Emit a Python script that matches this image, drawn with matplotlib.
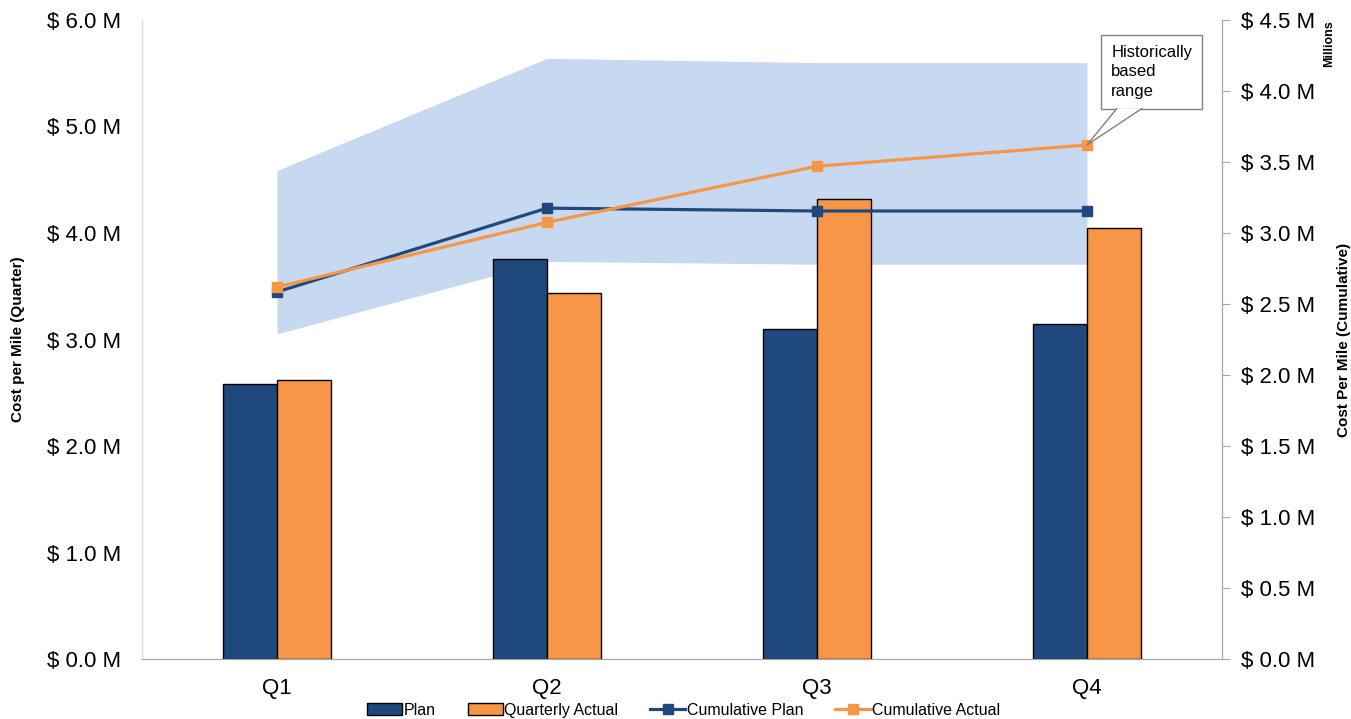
import numpy as np
import matplotlib.pyplot as plt
from matplotlib.patches import Polygon
from matplotlib.lines import Line2D
from matplotlib.transforms import offset_copy

plt.rcParams['font.family'] = ['Liberation Sans', 'DejaVu Sans']

# Data (in $ millions)
quarters = ['Q1', 'Q2', 'Q3', 'Q4']
plan = [2.58, 3.76, 3.10, 3.15]
quarterly_actual = [2.62, 3.44, 4.32, 4.05]
cumulative_plan = [2.585, 3.175, 3.155, 3.155]
cumulative_actual = [2.62, 3.075, 3.47, 3.62]
range_low = [2.29, 2.80, 2.78, 2.78]
range_high = [3.44, 4.23, 4.20, 4.20]

left_ticks = [0, 1, 2, 3, 4, 5, 6]
right_ticks = [0, 0.5, 1.0, 1.5, 2.0, 2.5, 3.0, 3.5, 4.0, 4.5]

navy = '#1F497D'
orange = '#F79646'
band = '#C6D9F0'
grey = '#A6A6A6'

fig = plt.figure(figsize=(13.51, 7.19), dpi=100)
ax1 = fig.add_axes([0.1051, 0.0834, 0.7994, 0.8888])
ax2 = ax1.twinx()

x = np.arange(len(quarters))
w = 0.2

ax1.set_xlim(-0.5, 3.5)
ax1.set_ylim(0, 6.0)
ax2.set_ylim(0, 4.5)

# historical range band (cumulative scale), drawn beneath bars
ax1.fill_between(x, range_low, range_high, color=band, lw=0,
                 transform=ax2.transData, zorder=0)

ax1.bar(x - w / 2, plan, w, color=navy, edgecolor='black', lw=1, zorder=2, label='Plan')
ax1.bar(x + w / 2, quarterly_actual, w, color=orange, edgecolor='black', lw=1, zorder=2,
        label='Quarterly Actual')

ax2.plot(x, cumulative_plan, color=navy, lw=2.3, marker='s', ms=7.5, label='Cumulative Plan')
ax2.plot(x, cumulative_actual, color=orange, lw=2.3, marker='s', ms=7.5, label='Cumulative Actual')

# axes styling
ax1.set_xticks(x)
ax1.set_xticklabels(quarters)
ax1.tick_params(axis='x', length=0, pad=14, labelsize=16)
ax1.set_yticks(left_ticks)
ax1.set_yticklabels(['$ %.1f M' % v for v in left_ticks])
ax1.tick_params(axis='y', length=0, pad=15, labelsize=16)
ax2.set_yticks(right_ticks)
ax2.set_yticklabels(['$ %.1f M' % v for v in right_ticks])
ax2.tick_params(axis='y', length=6, color=grey, pad=8, labelsize=16)

for a in (ax1, ax2):
    a.spines['top'].set_visible(False)
    a.spines['left'].set_color('#D9D9D9')
    a.spines['right'].set_color(grey)
    a.spines['bottom'].set_color(grey)

ax1.set_ylabel('Cost per Mile (Quarter)', fontsize=11, fontweight='bold', labelpad=16)
ax2.set_ylabel('Cost Per Mile (Cumulative)', fontsize=11, fontweight='bold', labelpad=15)
fig.text(0.984, 0.94, 'Millions', rotation=90, fontsize=9, fontweight='bold',
         ha='center', va='center')

# callout anchored on the last cumulative actual point
px, py = x[3], cumulative_actual[3]
ax2.text(px, py, 'Historically\nbased\nrange', fontsize=12, ha='left', va='bottom',
         linespacing=1.4,
         transform=offset_copy(ax2.transData, fig=fig, x=17.5, y=33, units='points'),
         bbox=dict(boxstyle='square,pad=0.6', fc='white', ec='#808080', lw=1), zorder=5)
tip = ax2.transData.transform((px, py))
pts = 72.0 / fig.dpi
tail = [(0, 0), (21.5, 26.2), (39.5, 26.2)]
disp = [(tip[0] + dx / pts, tip[1] + dy / pts) for dx, dy in tail]
fig_pts = fig.transFigure.inverted().transform(disp)
ax2.add_patch(Polygon(fig_pts, closed=True, fc='white', ec='none',
                      transform=fig.transFigure, zorder=6, clip_on=False))
ax2.add_line(Line2D([fig_pts[1][0], fig_pts[0][0], fig_pts[2][0]],
                    [fig_pts[1][1], fig_pts[0][1], fig_pts[2][1]],
                    color='#808080', lw=1, transform=fig.transFigure, zorder=7,
                    clip_on=False))

h1, l1 = ax1.get_legend_handles_labels()
h2, l2 = ax2.get_legend_handles_labels()
fig.legend(h1 + h2, l1 + l2, loc='lower center', bbox_to_anchor=(0.506, -0.018), ncol=4,
           frameon=False, fontsize=11.5, handlelength=2.2, handletextpad=0.1,
           columnspacing=2.0)

fig.savefig('out.png', dpi=100)
